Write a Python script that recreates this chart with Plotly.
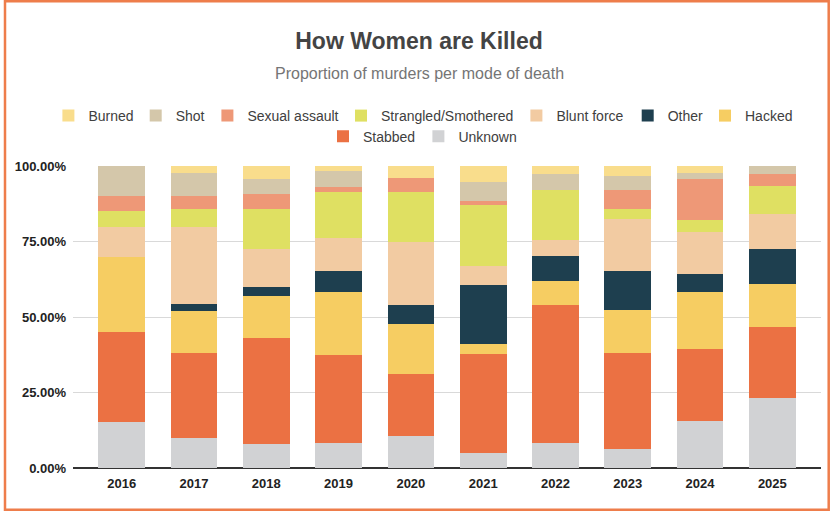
import plotly.graph_objects as go

# ---------------- data (percent of murders per year) ----------------
years = ["2016", "2017", "2018", "2019", "2020", "2021", "2022", "2023", "2024", "2025"]
unknown   = [15.2, 10.1, 7.8, 8.2, 10.5, 5.1, 8.2, 6.3, 15.6, 23.2]
stabbed   = [29.8, 28.1, 35.2, 29.2, 20.6, 32.6, 45.8, 31.8, 24.0, 23.4]
hacked    = [24.9, 13.8, 14.1, 20.9, 16.6, 3.2, 8.2, 14.3, 18.7, 14.3]
other     = [0.0, 2.2, 2.8, 7.1, 6.2, 19.6, 8.2, 12.8, 5.9, 11.7]
blunt     = [9.8, 25.6, 12.7, 11.0, 21.0, 6.5, 5.2, 17.3, 14.1, 11.5]
strangled = [5.3, 6.0, 13.2, 15.3, 16.6, 20.0, 16.6, 3.1, 4.0, 9.5]
sexual    = [5.0, 4.3, 5.2, 1.7, 4.4, 1.5, 0.0, 6.3, 13.6, 3.8]
shot      = [10.0, 7.7, 4.9, 5.3, 0.0, 6.3, 5.3, 4.8, 2.0, 2.7]
burned    = [0.0, 2.2, 4.3, 1.5, 4.1, 5.2, 2.7, 3.3, 2.2, 0.0]

y_tickvals = [0, 25, 50, 75, 100]
y_ticktext = ["0.00%", "25.00%", "50.00%", "75.00%", "100.00%"]

# stacking order bottom -> top
series = [
    ("Unknown", unknown, "#D1D2D4"),
    ("Stabbed", stabbed, "#EB7143"),
    ("Hacked", hacked, "#F6CD62"),
    ("Other", other, "#1E3F4F"),
    ("Blunt force", blunt, "#F2CBA2"),
    ("Strangled/Smothered", strangled, "#DFE062"),
    ("Sexual assault", sexual, "#EE9877"),
    ("Shot", shot, "#D4C7AA"),
    ("Burned", burned, "#F9DD8C"),
]

# ---------------- layout constants (pixels) ----------------
W, H = 832, 514
ML, MR, MT, MB = 73, 11, 166, 46
PW, PH = W - ML - MR, H - MT - MB
FONT = "Liberation Sans, Arial, sans-serif"

def px_x(px):
    return (px - ML) / PW

def px_y(py):
    return (H - MB - py) / PH

# legend item placement: marker left edge (px), row centre (px)
legend_pos = {
    "Burned": (62.7, 116), "Shot": (150, 116), "Sexual assault": (221.7, 116),
    "Strangled/Smothered": (355.3, 116), "Blunt force": (530.7, 116),
    "Other": (642, 116), "Hacked": (719.3, 116),
    "Stabbed": (337.3, 136.7), "Unknown": (432.7, 136.7),
}
legend_order = ["Burned", "Shot", "Sexual assault", "Strangled/Smothered", "Blunt force",
                "Other", "Hacked", "Stabbed", "Unknown"]
legend_key = {name: ("legend" if i == 0 else f"legend{i+1}") for i, name in enumerate(legend_order)}

fig = go.Figure()
for name, vals, color in series:
    fig.add_trace(go.Bar(
        x=years, y=vals, name=name, marker=dict(color=color, line=dict(width=0)),
        legend=legend_key[name],
    ))

layout_legends = {}
for name in legend_order:
    mx, my = legend_pos[name]
    layout_legends[legend_key[name]] = dict(
        x=px_x(mx - 14.3), xanchor="left", y=px_y(my), yanchor="middle",
        orientation="h", bgcolor="rgba(0,0,0,0)", borderwidth=0,
        font=dict(family=FONT, size=14, color="#404040"),
    )

fig.update_layout(
    width=W, height=H,
    margin=dict(l=ML, r=MR, t=MT, b=MB, pad=0),
    paper_bgcolor="white", plot_bgcolor="white",
    barmode="stack", barnorm="percent", bargap=0.354,
    showlegend=True,
    title=dict(text="<b>How Women are Killed</b>", x=419 / W, xanchor="center",
               xref="container", yref="container", y=1 - 41.3 / H, yanchor="middle",
               font=dict(family=FONT, size=23, color="#444444")),
    xaxis=dict(type="category", range=[-0.673, 9.673], showgrid=False,
               showline=False, zeroline=False, ticks="",
               tickfont=dict(family=FONT, size=13, color="#222222", weight="bold"),
               ticklabelstandoff=6, fixedrange=True),
    yaxis=dict(range=[0, 100], tickvals=y_tickvals, ticktext=y_ticktext,
               showgrid=True, gridcolor="#D9D9D9", gridwidth=1,
               zeroline=True, zerolinecolor="#333333", zerolinewidth=1.5,
               showline=False, ticks="",
               tickfont=dict(family=FONT, size=13, color="#222222", weight="bold"),
               ticklabelstandoff=6, fixedrange=True),
    annotations=[dict(text="Proportion of murders per mode of death", showarrow=False,
                      xref="paper", yref="paper", x=px_x(419), y=px_y(73.7),
                      xanchor="center", yanchor="middle",
                      font=dict(family=FONT, size=16, color="#757575"))],
    shapes=[dict(type="rect", xref="paper", yref="paper",
                 x0=px_x(5), x1=px_x(828.7), y0=px_y(509.7), y1=px_y(1.2),
                 line=dict(color="#EE7D4B", width=2.5), fillcolor="rgba(0,0,0,0)",
                 layer="above")],
    **layout_legends,
)

fig.write_html("out.html")
